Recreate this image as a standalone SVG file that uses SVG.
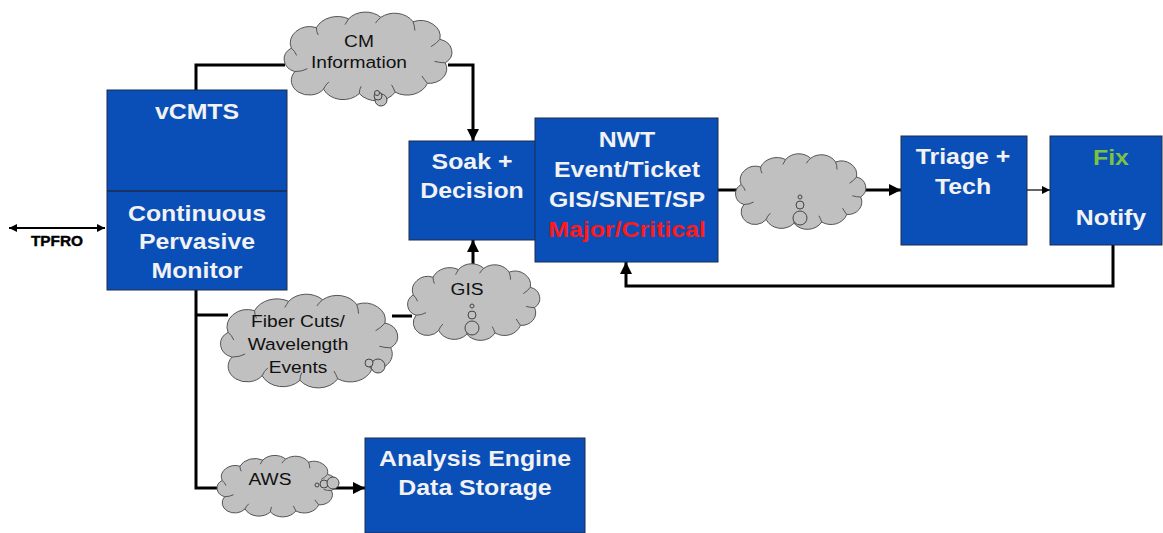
<svg xmlns="http://www.w3.org/2000/svg" xmlns:xlink="http://www.w3.org/1999/xlink" width="1163" height="533" viewBox="0 0 1163 533">
<style>
  .box { fill: #0a4fb8; stroke: #1c2a4a; stroke-width: 1; }
  .bt { font-family: "Liberation Sans", Arial, sans-serif; font-weight: bold; font-size: 22px; fill: #f2f2f2; text-anchor: middle; transform-box: fill-box; transform-origin: center; transform: scaleX(1.13); }
  .ct { font-family: "Liberation Sans", Arial, sans-serif; font-size: 17px; fill: #111; text-anchor: middle; transform-box: fill-box; transform-origin: center; transform: scaleX(1.13); }
  .tp { font-family: "Liberation Sans", Arial, sans-serif; font-weight: bold; font-size: 14px; fill: #000; text-anchor: middle; stroke: #000; stroke-width: 0.4; transform-box: fill-box; transform-origin: center; transform: scaleX(1.1); }
  .cl { fill: #c0c0c0; stroke: #555; stroke-width: 1; }
  .cd { fill: none; stroke: #555; stroke-width: 1; }
  .bub { fill: #c0c0c0; stroke: #444; stroke-width: 1; }
  .ln { fill: none; stroke: #000; stroke-width: 3; }
  .thin { fill: none; stroke: #000; stroke-width: 1.2; }
</style>
<defs>
  <marker id="ah" markerUnits="userSpaceOnUse" markerWidth="12" markerHeight="12" viewBox="0 0 10 10" refX="10" refY="5" orient="auto-start-reverse">
    <path d="M0,0 L10,5 L0,10 Z" fill="#000"/>
  </marker>
  <marker id="ahs" markerUnits="userSpaceOnUse" markerWidth="8" markerHeight="8" viewBox="0 0 10 10" refX="10" refY="5" orient="auto-start-reverse">
    <path d="M0,0 L10,5 L0,10 Z" fill="#000"/>
  </marker>
  <symbol id="cloud" viewBox="0 0 100 60" preserveAspectRatio="none" overflow="visible">
    <path class="cl" vector-effect="non-scaling-stroke" d="M10,42 A9,9 0 0 1 8,26 A11,11 0 0 1 22,12 A13,13 0 0 1 40,6 A12,12 0 0 1 58,5 A12,12 0 0 1 76,8 A11,11 0 0 1 91,20 A9,9 0 0 1 94,36 A10,10 0 0 1 84,50 A12,12 0 0 1 66,56 A12,12 0 0 1 46,57 A12,12 0 0 1 26,54 A10,10 0 0 1 10,42 Z"/>
    <path class="cd" vector-effect="non-scaling-stroke" d="M10,42 Q14,42 17,40 M8,26 Q10,28 11,31 M22,12 Q22,15 23,17 M40,6 Q39,8 38,10 M58,5 Q56,7 55,9 M76,8 Q77,11 77,14 M91,20 Q89,23 86,25 M94,36 Q91,36 88,35 M84,50 Q82,47 81,45 M66,56 Q65,53 64,51 M46,57 Q46,54 47,52 M26,54 Q27,51 29,49"/>
  </symbol>
</defs>

<g id="connectors">
  <polyline class="ln" points="196,90 196,65 285,65"/>
  <polyline class="ln" points="448,65 473,65 473,141" marker-end="url(#ah)"/>
  <line class="ln" x1="527" y1="198" x2="537" y2="198" marker-end="url(#ah)"/>
  <line class="ln" x1="473" y1="272" x2="473" y2="240" marker-end="url(#ah)"/>
  <polyline class="ln" points="196,290 196,488 222,488"/>
  <line class="ln" x1="196" y1="315" x2="228" y2="315"/>
  <line class="ln" x1="392" y1="316" x2="412" y2="316"/>
  <line class="ln" x1="333" y1="488" x2="365" y2="488" marker-end="url(#ah)"/>
  <line class="ln" x1="718" y1="190" x2="740" y2="190"/>
  <line class="ln" x1="860" y1="190" x2="901" y2="190" marker-end="url(#ah)"/>
  <line class="thin" x1="1027" y1="190" x2="1050" y2="190" marker-end="url(#ahs)"/>
  <polyline class="ln" points="1113,245 1113,286 626,286 626,262" marker-end="url(#ah)"/>
  <line x1="9" y1="228" x2="105" y2="228" stroke="#000" stroke-width="2" marker-start="url(#ahs)" marker-end="url(#ahs)"/>
</g>

<g id="tpfro">
  <text class="tp" x="57" y="246">TPFRO</text>
</g>

<g id="vcmts">
  <rect class="box" x="107" y="90" width="180" height="200"/>
  <line x1="107" y1="191" x2="287" y2="191" stroke="#1c2a4a" stroke-width="1.5"/>
  <text class="bt" x="197" y="119">vCMTS</text>
  <text class="bt" x="197" y="221">Continuous</text>
  <text class="bt" x="197" y="249">Pervasive</text>
  <text class="bt" x="197" y="278">Monitor</text>
</g>

<g id="cm-info">
  <use href="#cloud" x="277" y="10" width="179" height="88"/>
  <circle class="bub" cx="381" cy="100" r="6"/>
  <circle class="bub" cx="378" cy="96" r="4"/>
  <circle class="bub" cx="377" cy="93" r="2.5"/>
  <text class="ct" x="359" y="47">CM</text>
  <text class="ct" x="359" y="68">Information</text>
</g>

<g id="soak">
  <rect class="box" x="409" y="141" width="127" height="99"/>
  <text class="bt" x="472" y="169">Soak +</text>
  <text class="bt" x="472" y="198">Decision</text>
</g>

<g id="nwt">
  <rect class="box" x="535" y="118" width="183" height="144"/>
  <text class="bt" x="627" y="147">NWT</text>
  <text class="bt" x="627" y="177">Event/Ticket</text>
  <text class="bt" x="627" y="207">GIS/SNET/SP</text>
  <text class="bt" x="627" y="237" style="fill:#ff1a1a">Major/Critical</text>
</g>

<g id="nwt-cloud">
  <use href="#cloud" x="730" y="152" width="139" height="75"/>
  <circle class="bub" cx="800" cy="197" r="2"/>
  <circle class="bub" cx="800" cy="205" r="4"/>
  <circle class="bub" cx="800" cy="218" r="7"/>
</g>

<g id="triage">
  <rect class="box" x="901" y="136" width="126" height="109"/>
  <text class="bt" x="963" y="164">Triage +</text>
  <text class="bt" x="963" y="194">Tech</text>
</g>

<g id="fix">
  <rect class="box" x="1050" y="136" width="112" height="109"/>
  <text class="bt" x="1111" y="165" style="fill:#7cc242">Fix</text>
  <text class="bt" x="1111" y="225">Notify</text>
</g>

<g id="gis">
  <use href="#cloud" x="402" y="262" width="141" height="76"/>
  <circle class="bub" cx="472" cy="306" r="2"/>
  <circle class="bub" cx="472" cy="315" r="4"/>
  <circle class="bub" cx="472" cy="328" r="7"/>
  <text class="ct" x="467" y="295">GIS</text>
</g>

<g id="fiber">
  <use href="#cloud" x="213" y="292" width="189" height="93"/>
  <circle class="bub" cx="378" cy="366" r="7"/>
  <circle class="bub" cx="369" cy="363" r="4"/>
  <text class="ct" x="298" y="327">Fiber Cuts/</text>
  <text class="ct" x="298" y="350">Wavelength</text>
  <text class="ct" x="298" y="373">Events</text>
</g>

<g id="aws">
  <use href="#cloud" x="212" y="454" width="127" height="61"/>
  <circle class="bub" cx="317" cy="485" r="2"/>
  <circle class="bub" cx="324" cy="484" r="4"/>
  <circle class="bub" cx="333" cy="483" r="6"/>
  <text class="ct" x="270" y="485">AWS</text>
</g>

<g id="analysis">
  <rect class="box" x="365" y="438" width="220" height="95"/>
  <text class="bt" x="475" y="466">Analysis Engine</text>
  <text class="bt" x="475" y="495">Data Storage</text>
</g>
</svg>
